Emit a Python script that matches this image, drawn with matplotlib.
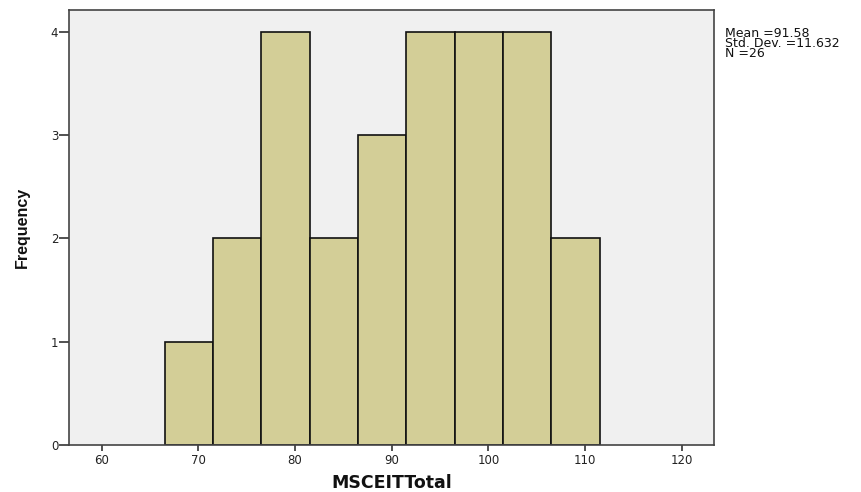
import matplotlib
matplotlib.use("Agg")
import matplotlib.pyplot as plt

bin_edges = [66.5, 71.5, 76.5, 81.5, 86.5, 91.5, 96.5, 101.5, 106.5, 111.5]
counts = [1, 2, 4, 2, 3, 4, 4, 4, 2]
x_ticks = [60, 70, 80, 90, 100, 110, 120]
y_ticks = [0, 1, 2, 3, 4]
stats_lines = ["Mean =91.58", "Std. Dev. =11.632", "N =26"]

plt.rcParams['font.family'] = ['DejaVu Sans']

fig = plt.figure(figsize=(8.62, 4.92), dpi=100)
ax = fig.add_axes([0.0804, 0.0955, 0.748, 0.8842])
ax.set_facecolor('#F0F0F0')

lefts = bin_edges[:-1]
widths = [b - a for a, b in zip(bin_edges[:-1], bin_edges[1:])]
ax.bar(lefts, counts, width=widths, align='edge', color='#D3CE97',
       edgecolor='#111111', linewidth=1.2)

ax.set_xlim(56.65, 123.35)
ax.set_ylim(0, 4.21)
ax.set_xticks(x_ticks)
ax.set_yticks(y_ticks)
ax.tick_params(axis='both', direction='out', width=1.2,
               color='#333333', labelsize=8.5, labelcolor='#222222')
ax.tick_params(axis='x', length=4.5, pad=2)
ax.tick_params(axis='y', length=7, pad=1)
for s in ax.spines.values():
    s.set_color('#444444')
    s.set_linewidth(1.2)

ax.set_xlabel('MSCEITTotal', fontsize=12.5, fontweight='bold', labelpad=5,
              color='#111111')
ax.set_ylabel('Frequency', fontsize=11.5, fontweight='bold',
              family=['Liberation Sans', 'DejaVu Sans'], labelpad=15,
              color='#111111')

fig.text(725 / 862, 1 - 27 / 492, "\n".join(stats_lines), fontsize=9,
         va='top', ha='left', linespacing=0.7, color='#111111')

fig.savefig('out.png', dpi=100)
